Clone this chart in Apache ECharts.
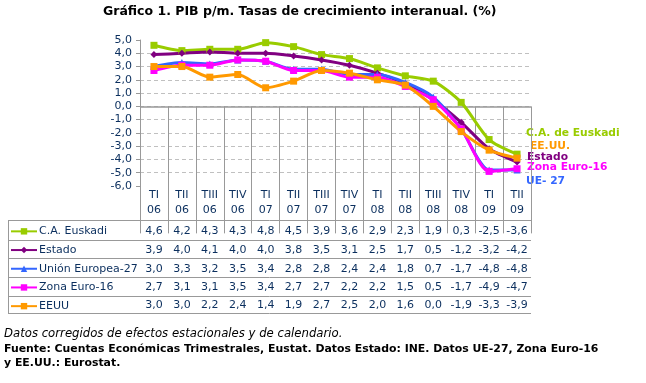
<!DOCTYPE html>
<html><head><meta charset="utf-8">
<script src="https://cdn.jsdelivr.net/npm/echarts@6/dist/echarts.min.js"></script>
<style>html,body{margin:0;padding:0;background:#fff}#c{width:646px;height:383px}</style>
</head><body><div id="c"></div>
<script>
const quarters = ['TI','TII','TIII','TIV','TI','TII','TIII','TIV','TI','TII','TIII','TIV','TI','TII'];
const years = ['06','06','06','06','07','07','07','07','08','08','08','08','09','09'];
const seriesNames = ['C.A. Euskadi','Estado','Unión Europea-27','Zona Euro-16','EEUU'];
const euskadi = [4.6,4.2,4.3,4.3,4.8,4.5,3.9,3.6,2.9,2.3,1.9,0.3,-2.5,-3.6];
const estado = [3.9,4.0,4.1,4.0,4.0,3.8,3.5,3.1,2.5,1.7,0.5,-1.2,-3.2,-4.2];
const ue27 = [3.0,3.3,3.2,3.5,3.4,2.8,2.8,2.4,2.4,1.8,0.7,-1.7,-4.8,-4.8];
const zonaEuro = [2.7,3.1,3.1,3.5,3.4,2.7,2.7,2.2,2.2,1.5,0.5,-1.7,-4.9,-4.7];
const eeuu = [3.0,3.0,2.2,2.4,1.4,1.9,2.7,2.5,2.0,1.6,0.0,-1.9,-3.3,-3.9];
const endLabels = ['C.A. de Euskadi','EE.UU.','Estado','Zona Euro-16','UE- 27'];

const categories = quarters.map((q,i)=>q+'\n'+years[i]);
const allData = [euskadi, estado, ue27, zonaEuro, eeuu];
const colors = ['#99CC00','#800080','#3366FF','#FF00FF','#FF9900'];
const symbols = ['rect','diamond','triangle','rect','rect'];
const NAVY = '#0B2F5E';
const FONT = 'DejaVu Sans';
const fmt = v => v.toFixed(1).replace('.', ',');

const chart = echarts.init(document.getElementById('c'), null, {renderer:'canvas'});
const option = {
  animation:false,
  title:{text:'Gráfico 1. PIB p/m. Tasas de crecimiento interanual. (%)', left:103, top:5, padding:0,
    textStyle:{fontFamily:FONT, fontSize:12.5, fontWeight:'bold', color:'#000'}},
  grid:{left:140, right:115, top:40, bottom:197, containLabel:false},
  legend:{orient:'vertical', left:10, top:222, padding:0, itemWidth:26, itemHeight:8, itemGap:0,
    data:seriesNames, selectedMode:false,
    textStyle:{fontFamily:FONT, fontSize:11, lineHeight:18.7, color:NAVY, padding:[0,0,0,-3]}},
  xAxis:{type:'category', data:categories, boundaryGap:true,
    axisLine:{show:false},
    axisTick:{show:true, length:127, lineStyle:{color:'#999999', width:1}},
    axisLabel:{fontFamily:FONT, fontSize:11, lineHeight:15, color:NAVY, margin:2, interval:0},
    splitLine:{show:false}},
  yAxis:{type:'value', min:-6, max:5, interval:1,
    axisLine:{show:true, lineStyle:{color:'#999999', width:1}},
    axisTick:{show:true, length:4, lineStyle:{color:'#999999'}},
    axisLabel:{fontFamily:FONT, fontSize:11, color:NAVY, margin:8, formatter:v=>fmt(v)},
    splitLine:{show:true, showMinLine:false, showMaxLine:false, lineStyle:{color:'#C0C0C0', type:[4,3], width:1}}},
  series: allData.map((d,i)=>({
    name:seriesNames[i], type:'line', data:d, smooth:0.25, z:3,
    symbol:symbols[i], symbolSize:7, showSymbol:true,
    lineStyle:{color:colors[i], width:3},
    itemStyle:{color:colors[i]},
    markLine: i===0 ? {silent:true, symbol:'none', z:1, label:{show:false},
      lineStyle:{color:'#999999', type:'solid', width:1.5}, data:[{yAxis:0}]} : undefined
  }))
};
chart.setOption(option);

// table and labels
const g = [];
const rowTops = [220, 239.5, 258.3, 277, 295.7, 313.3];
const xLeft = 8, xRight = 531;
rowTops.forEach(y=>g.push({type:'line', silent:true, shape:{x1:xLeft,y1:Math.round(y)+0.5,x2:xRight,y2:Math.round(y)+0.5}, style:{stroke:'#999999', lineWidth:1}}));
g.push({type:'line', silent:true, shape:{x1:xLeft+0.5,y1:220,x2:xLeft+0.5,y2:314}, style:{stroke:'#999999', lineWidth:1}});
allData.forEach((d,r)=>{
  const cy = (rowTops[r]+rowTops[r+1])/2 + 1;
  d.forEach((v,i)=>{
    const x = chart.convertToPixel({xAxisIndex:0}, i);
    g.push({type:'text', silent:true, x:x, y:cy, style:{text:fmt(v), fill:NAVY, font:'11px "'+FONT+'"', align:'center', verticalAlign:'middle'}});
  });
});
const labelPos = [[526,133],[530,146],[527,157],[527,167],[526,181]];
const labelColors = ['#99CC00','#FF9900','#800080','#FF00FF','#3366FF'];
endLabels.forEach((t,i)=>{
  g.push({type:'text', silent:true, x:labelPos[i][0], y:labelPos[i][1], style:{text:t, fill:labelColors[i], font:'bold 10.7px "'+FONT+'"', align:'left', verticalAlign:'middle'}});
});
g.push({type:'text', silent:true, x:4, y:334, style:{text:'Datos corregidos de efectos estacionales y de calendario.', fill:'#000', font:'italic 11.7px "'+FONT+'"', verticalAlign:'middle'}});
g.push({type:'text', silent:true, x:4, y:349, style:{text:'Fuente: Cuentas Económicas Trimestrales, Eustat. Datos Estado: INE. Datos UE-27, Zona Euro-16', fill:'#000', font:'bold 10.9px "'+FONT+'"', verticalAlign:'middle'}});
g.push({type:'text', silent:true, x:4, y:363, style:{text:'y EE.UU.: Eurostat.', fill:'#000', font:'bold 10.9px "'+FONT+'"', verticalAlign:'middle'}});
chart.setOption({graphic:g});
</script></body></html>
